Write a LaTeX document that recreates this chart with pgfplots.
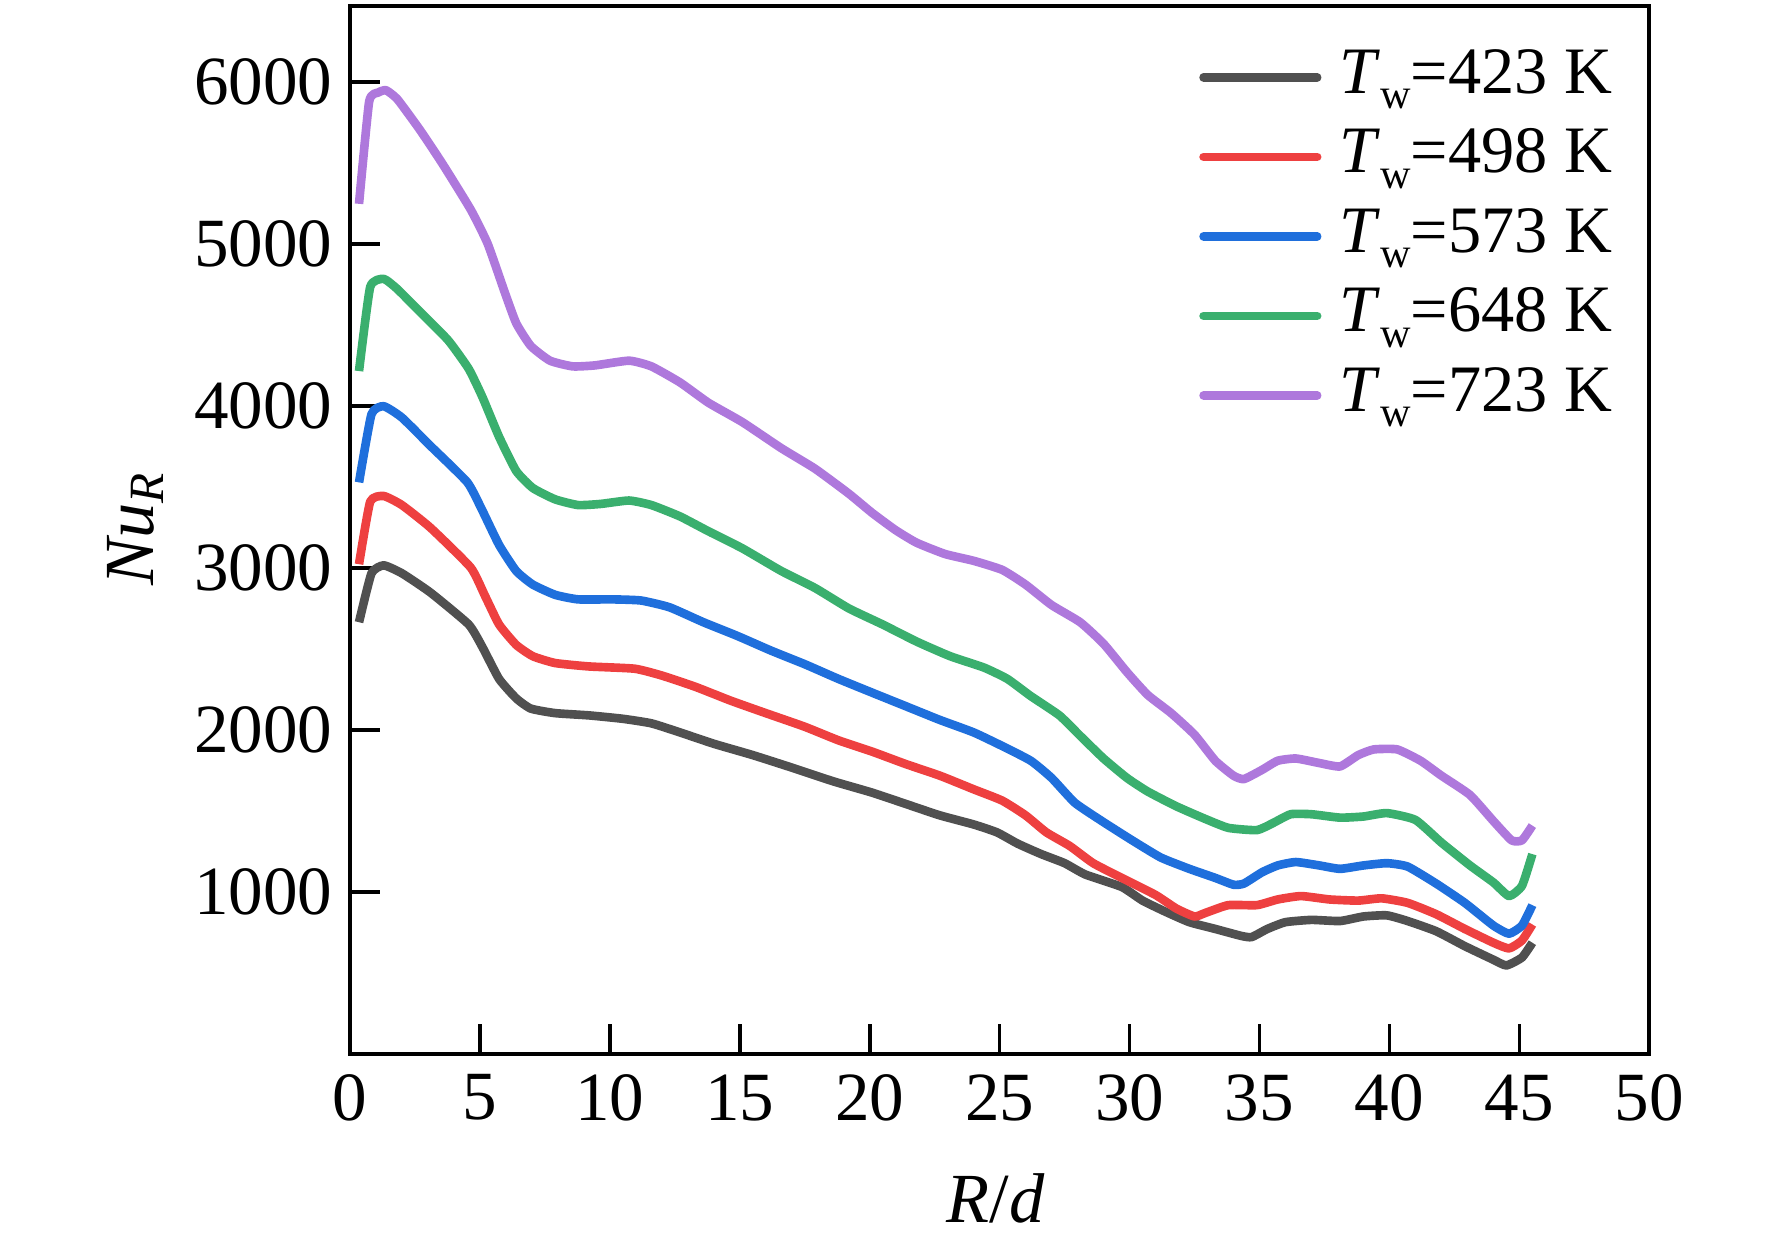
\documentclass[border=0pt]{standalone}
\usepackage{pgfplots}
\pgfplotsset{compat=1.18}
\usepackage{fontspec}
\setmainfont{Liberation Serif}
\definecolor{cgray}{HTML}{505050}
\definecolor{cred}{HTML}{EE4040}
\definecolor{cblue}{HTML}{1F6FDC}
\definecolor{cgreen}{HTML}{3AAF6E}
\definecolor{cpurple}{HTML}{AE78DC}
\newcommand{\Tw}[1]{\textit{T}\raisebox{-3.4pt}{\fontsize{9.3}{9.3}\selectfont w}=#1 K}
\begin{document}
\begin{tikzpicture}
\begin{axis}[
  scale only axis,
  width=286pt, height=230.75pt,
  xmin=0, xmax=50, ymin=0, ymax=6470,
  xtick={0,5,...,50}, ytick={1000,2000,...,6000},
  xtick pos=bottom, ytick pos=left,
  tick align=inside,
  major tick length=6.6pt,
  every tick/.style={line width=0.8pt, black},
  axis line style={line width=0.9pt},
  /pgf/number format/assume math mode=true,
  /pgf/number format/1000 sep={},
  ticklabel style={font=\fontsize{15.2}{17}\selectfont},
  xticklabel style={yshift=-1pt},
  yticklabel style={xshift=-0.3pt},
  xlabel={\textit{R}/\textit{d}},
  ylabel={\textit{Nu}\textsubscript{\textit{R}}},
  label style={font=\fontsize{15.5}{18}\selectfont},
  xlabel style={at={(axis description cs:0.497,-0.1376)}, anchor=center},
  ylabel style={at={(axis description cs:-0.165,0.5016)}, anchor=center, rotate=0},
  legend style={draw=none, fill=none, at={(axis description cs:0.988,0.978)}, anchor=north east,
    font=\fontsize{14.6}{17}\selectfont, row sep=0.5pt, column sep=2.5pt,
    nodes={inner sep=1.5pt, text height=10.5pt, text depth=3.5pt}},
  legend cell align=left,
  legend image code/.code={\draw[#1, line cap=round] (0pt,0pt) -- (25pt,0pt);},
  every axis plot/.append style={line width=1.9pt, line join=round, smooth, tension=0.3},
  clip=false,
]
\addplot[cgray] coordinates {
(0.35,2665)(0.83,2967)(1.3,3016)(2.0,2967)(3.1,2848)(4.57,2651)(5.1,2511)(5.74,2315)(6.4,2195)(6.96,2132)(7.9,2104)(9.2,2090)(10.5,2069)(11.6,2041)(12.7,1985)(14.0,1915)(15.5,1845)(17.0,1768)(18.6,1683)(20.1,1613)(21.4,1543)(22.7,1473)(24.0,1417)(24.9,1368)(25.7,1298)(26.6,1234)(27.5,1178)(28.3,1108)(29.7,1031)(30.5,947)(31.4,877)(32.3,814)(33.3,772)(34.3,729)(34.7,722)(35.3,772)(36.0,814)(37.0,828)(38.1,821)(39.0,849)(39.9,856)(40.7,821)(41.8,758)(42.9,666)(44.0,582)(44.5,547)(45.1,596)(45.5,687)
};
\addlegendentry{\Tw{423}}
\addplot[cred] coordinates {
(0.35,3023)(0.78,3409)(1.3,3444)(2.0,3388)(3.1,3248)(4.65,3002)(5.2,2827)(5.74,2651)(6.4,2525)(7.04,2455)(7.9,2413)(9.2,2392)(10.96,2378)(12.0,2336)(13.3,2266)(14.65,2181)(16.0,2104)(17.5,2020)(18.8,1936)(20.1,1866)(21.4,1789)(22.7,1718)(24.0,1634)(25.1,1564)(26.0,1473)(26.8,1368)(27.7,1284)(28.6,1178)(29.7,1087)(31.0,982)(31.8,898)(32.5,849)(32.9,870)(33.8,919)(34.9,919)(35.7,954)(36.6,975)(37.7,954)(38.8,947)(39.7,961)(40.7,933)(41.8,863)(42.9,772)(44.0,687)(44.6,652)(45.1,701)(45.5,800)
};
\addlegendentry{\Tw{498}}
\addplot[cblue] coordinates {
(0.35,3528)(0.83,3949)(1.3,3998)(2.0,3928)(3.1,3753)(4.52,3528)(5.1,3353)(5.74,3142)(6.4,2981)(7.04,2897)(7.9,2834)(8.78,2806)(10.1,2806)(11.2,2799)(12.3,2757)(13.6,2665)(14.9,2581)(16.2,2490)(17.5,2406)(18.8,2315)(20.1,2230)(21.4,2146)(22.7,2062)(24.0,1985)(25.1,1901)(26.2,1810)(27.0,1704)(27.9,1550)(29.0,1431)(30.1,1319)(31.2,1213)(32.3,1143)(33.3,1087)(34.0,1045)(34.4,1052)(35.1,1122)(35.7,1164)(36.4,1185)(37.3,1164)(38.1,1143)(39.0,1164)(39.9,1178)(40.7,1157)(41.8,1052)(42.9,933)(44.0,793)(44.6,743)(45.1,793)(45.5,919)
};
\addlegendentry{\Tw{573}}
\addplot[cgreen] coordinates {
(0.35,4215)(0.78,4734)(1.3,4784)(1.83,4720)(2.7,4580)(3.78,4405)(4.57,4229)(5.1,4054)(5.74,3809)(6.4,3598)(7.04,3493)(7.9,3423)(8.78,3388)(9.65,3395)(10.74,3416)(11.6,3388)(12.7,3318)(13.8,3226)(15.1,3121)(16.6,2981)(17.9,2876)(19.2,2750)(20.5,2651)(21.8,2546)(23.1,2455)(24.4,2385)(25.3,2315)(26.2,2209)(27.3,2090)(28.1,1964)(29.0,1824)(29.9,1704)(30.7,1620)(31.8,1529)(32.9,1452)(33.8,1396)(34.9,1382)(35.5,1424)(36.2,1480)(37.0,1480)(38.1,1459)(39.0,1466)(39.9,1487)(41.0,1445)(42.0,1305)(43.1,1164)(44.0,1059)(44.6,975)(45.1,1038)(45.5,1234)
};
\addlegendentry{\Tw{648}}
\addplot[cpurple] coordinates {
(0.35,5247)(0.74,5878)(1.09,5934)(1.39,5948)(1.83,5892)(2.7,5702)(3.57,5492)(4.65,5211)(5.3,5001)(5.96,4700)(6.4,4510)(6.96,4370)(7.7,4279)(8.57,4244)(9.43,4250)(10.74,4279)(11.6,4244)(12.7,4145)(13.8,4019)(15.1,3900)(16.6,3739)(17.9,3612)(19.2,3458)(20.1,3339)(21.0,3233)(21.8,3156)(22.9,3086)(24.0,3044)(25.1,2988)(26.0,2897)(27.0,2771)(28.1,2665)(29.0,2532)(29.9,2357)(30.7,2216)(31.6,2104)(32.5,1971)(33.3,1810)(34.0,1718)(34.4,1697)(35.1,1754)(35.7,1810)(36.4,1824)(37.3,1796)(38.1,1775)(38.8,1845)(39.4,1880)(40.3,1880)(41.2,1810)(42.0,1718)(43.1,1599)(44.0,1438)(44.7,1319)(45.1,1319)(45.5,1410)
};
\addlegendentry{\Tw{723}}
\path (axis description cs:-0.2693,-0.1733) rectangle (axis description cs:1.0944,1.0054);
\end{axis}
\end{tikzpicture}
\end{document}
